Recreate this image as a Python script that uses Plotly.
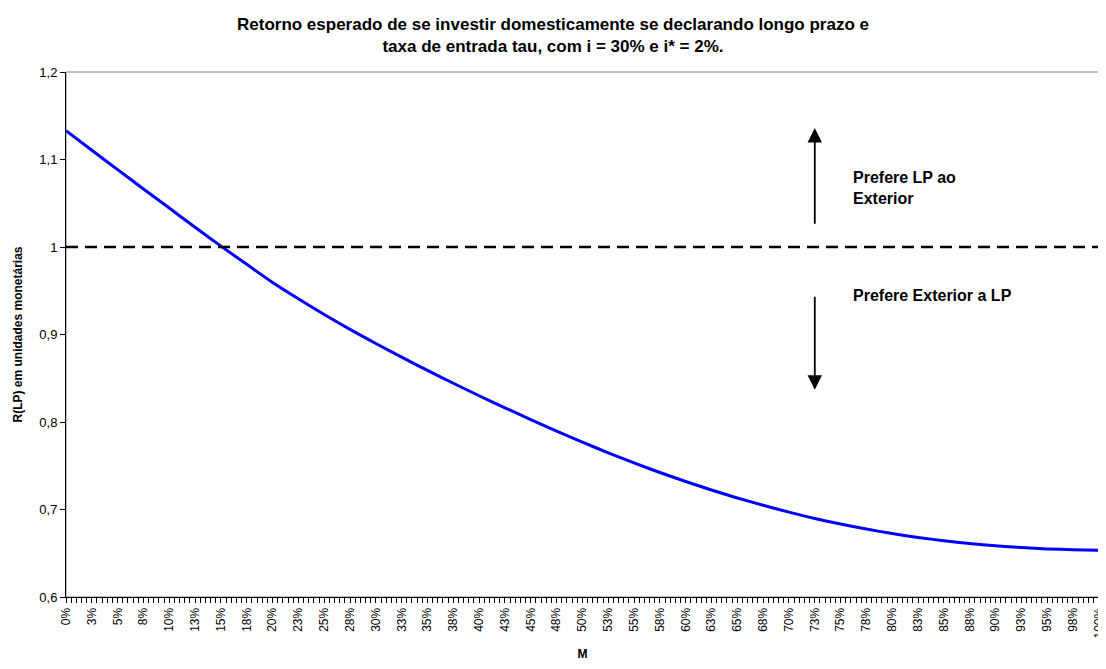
import plotly.graph_objects as go

# Data
m_pct = [0, 2.5, 5, 7.5, 10, 12.5, 15, 17.5, 20, 22.5, 25, 27.5, 30, 32.5, 35, 37.5, 40,
         42.5, 45, 47.5, 50, 52.5, 55, 57.5, 60, 62.5, 65, 67.5, 70, 72.5, 75, 77.5, 80,
         82.5, 85, 87.5, 90, 92.5, 95, 97.5, 100]
r_lp = [1.133, 1.1106, 1.0884, 1.0663, 1.0445, 1.0225, 1.0010, 0.9802, 0.9595, 0.9408,
        0.9228, 0.9058, 0.8897, 0.8741, 0.8590, 0.8443, 0.8300, 0.8162, 0.8028, 0.7897,
        0.7770, 0.7648, 0.7532, 0.7423, 0.7320, 0.7223, 0.7132, 0.7048, 0.6970, 0.6898,
        0.6834, 0.6776, 0.6725, 0.6681, 0.6643, 0.6611, 0.6585, 0.6565, 0.6550, 0.6540,
        0.6535]
tick_vals = m_pct
tick_text = ["0%", "3%", "5%", "8%", "10%", "13%", "15%", "18%", "20%", "23%", "25%",
             "28%", "30%", "33%", "35%", "38%", "40%", "43%", "45%", "48%", "50%", "53%",
             "55%", "58%", "60%", "63%", "65%", "68%", "70%", "73%", "75%", "78%", "80%",
             "83%", "85%", "88%", "90%", "93%", "95%", "98%", "100%"]
ref_level = 1.0
title_text = ("Retorno esperado de se investir domesticamente se declarando longo prazo e<br>"
              "taxa de entrada tau, com i = 30% e i* = 2%.")

FONT = "Liberation Sans, Arial, sans-serif"
W, H = 1098, 653  # page has an 8px body margin

fig = go.Figure()
fig.add_trace(go.Scatter(x=m_pct, y=r_lp, mode="lines",
                         line=dict(color="#0000FF", width=3, shape="spline", smoothing=0.8),
                         showlegend=False, hoverinfo="skip"))
fig.add_trace(go.Scatter(x=[0, 100], y=[ref_level, ref_level], mode="lines",
                         line=dict(color="black", width=2.5, dash="12px,7px"),
                         showlegend=False, hoverinfo="skip"))

# arrows
fig.add_annotation(x=72.5, y=1.136, ax=72.5, ay=1.025, xref="x", yref="y", axref="x", ayref="y",
                   showarrow=True, arrowhead=2, arrowsize=1.6, arrowwidth=1.8, arrowcolor="black", text="")
fig.add_annotation(x=72.5, y=0.837, ax=72.5, ay=0.945, xref="x", yref="y", axref="x", ayref="y",
                   showarrow=True, arrowhead=2, arrowsize=1.6, arrowwidth=1.8, arrowcolor="black", text="")
fig.add_annotation(x=76.0, y=1.0674, xref="x", yref="y", text="<b>Prefere LP ao<br>Exterior</b>",
                   showarrow=False, xanchor="left", yanchor="middle", align="left",
                   font=dict(family=FONT, size=16, color="black"))
fig.add_annotation(x=76.0, y=0.945, xref="x", yref="y", text="<b>Prefere Exterior a LP</b>",
                   showarrow=False, xanchor="left", yanchor="middle", align="left",
                   font=dict(family=FONT, size=16, color="black"))

# plot area border (gray)
fig.add_shape(type="rect", xref="paper", yref="paper", x0=0, y0=0, x1=1, y1=1,
              line=dict(color="#808080", width=1), layer="below")

fig.update_layout(
    width=W, height=H,
    margin=dict(l=58, r=7, t=64, b=64),
    paper_bgcolor="white", plot_bgcolor="white",
    separators=",.",
    font=dict(family=FONT, size=12, color="black"),
    title=dict(text="<b>" + title_text + "</b>", x=545 / W, xref="container", xanchor="center",
               y=1 - 22 / H, yref="container", yanchor="top",
               font=dict(family=FONT, size=17, color="black")),
    xaxis=dict(range=[0, 100.02], tickmode="array", tickvals=tick_vals, ticktext=tick_text,
               tickangle=-90, ticks="outside", ticklen=5, tickcolor="black", tickwidth=1,
               showgrid=False, zeroline=False, showline=True, linecolor="black", linewidth=1,
               automargin=False, ticklabeloverflow="allow",
               minor=dict(dtick=0.5, ticks="outside", ticklen=5, tickcolor="black", tickwidth=1, showgrid=False),
               title=dict(text="<b>M</b>", font=dict(family=FONT, size=12), standoff=14),
               tickfont=dict(family=FONT, size=12)),
    yaxis=dict(range=[0.6, 1.2], dtick=0.1, tick0=0.6, ticks="outside", ticklen=5, tickcolor="black",
               showgrid=False, zeroline=False, showline=True, linecolor="black", linewidth=1,
               automargin=False,
               title=dict(text="<b>R(LP) em unidades monetárias</b>", font=dict(family=FONT, size=12), standoff=14),
               tickfont=dict(family=FONT, size=13)),
)

fig.write_html("out.html")
